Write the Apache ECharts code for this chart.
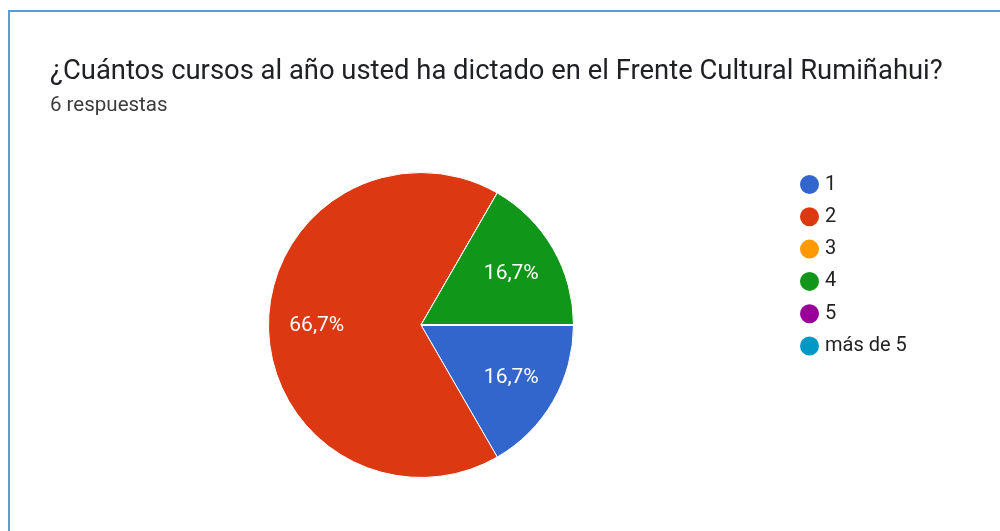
<!DOCTYPE html>
<html>
<head>
<meta charset="utf-8">
<style>
  html, body { margin: 0; padding: 0; background: #fff; }
  #chart { width: 1000px; height: 531px; }
</style>
<script src="https://cdn.jsdelivr.net/npm/echarts@6/dist/echarts.min.js"></script>
</head>
<body>
<div id="chart"></div>
<script>
// Survey answers: number of courses taught per year
const categories = ['1', '2', '3', '4', '5', 'más de 5'];
const counts = [1, 4, 0, 1, 0, 0];
const colors = ['#3366cc', '#dc3912', '#ff9900', '#109618', '#990099', '#0099c6'];
const titleText = '¿Cuántos cursos al año usted ha dictado en el Frente Cultural Rumiñahui?';
const subtitleText = '6 respuestas';

const total = counts.reduce((a, b) => a + b, 0);
const pieData = categories.map((name, i) => ({ name: name, value: counts[i] }));

const fmtPercent = (p) => {
  if (!p.value) return '';
  return (p.value / total * 100).toFixed(1).replace('.', ',') + '%';
};

const FONT = 'Roboto, "Noto Sans", sans-serif';
const center = [421, 325];
const R = 152.5;

const chart = echarts.init(document.getElementById('chart'), null, { renderer: 'canvas' });
chart.setOption({
  animation: false,
  color: colors,
  title: [
    {
      text: titleText,
      left: 45, top: 54,
      textStyle: { fontFamily: FONT, fontSize: 27.4, fontWeight: 'normal', color: '#202124' }
    },
    {
      text: subtitleText,
      left: 45, top: 90,
      textStyle: { fontFamily: FONT, fontSize: 20.5, fontWeight: 'normal', color: '#3c3c3c' }
    }
  ],
  legend: {
    orient: 'vertical',
    left: 793, top: 168,
    icon: 'circle',
    itemWidth: 21, itemHeight: 21,
    itemGap: 9.3,
    textStyle: { fontFamily: FONT, fontSize: 20, color: '#222', padding: [0, 0, 0, 0] },
    data: categories
  },
  graphic: [
    {
      type: 'rect',
      shape: { x: 9, y: 11, width: 1200, height: 700 },
      style: { fill: 'none', stroke: '#5b9bd5', lineWidth: 2 },
      silent: true, z: 100
    }
  ],
  series: [
    {
      // filled sectors
      type: 'pie',
      center: center,
      radius: [0, R],
      startAngle: 0,
      clockwise: true,
      silent: true,
      itemStyle: { borderColor: '#fff', borderWidth: 1 },
      label: { show: false },
      labelLine: { show: false },
      data: pieData
    },
    {
      // transparent ring carrying the percentage labels
      type: 'pie',
      center: center,
      radius: [50, R],
      startAngle: 0,
      clockwise: true,
      silent: true,
      itemStyle: { color: 'rgba(0,0,0,0)', borderWidth: 0 },
      label: {
        show: true,
        position: 'inside',
        formatter: fmtPercent,
        fontFamily: FONT,
        fontSize: 21,
        color: '#fff',
        offset: [0, 1]
      },
      labelLine: { show: false },
      data: pieData
    }
  ]
});
</script>
</body>
</html>
